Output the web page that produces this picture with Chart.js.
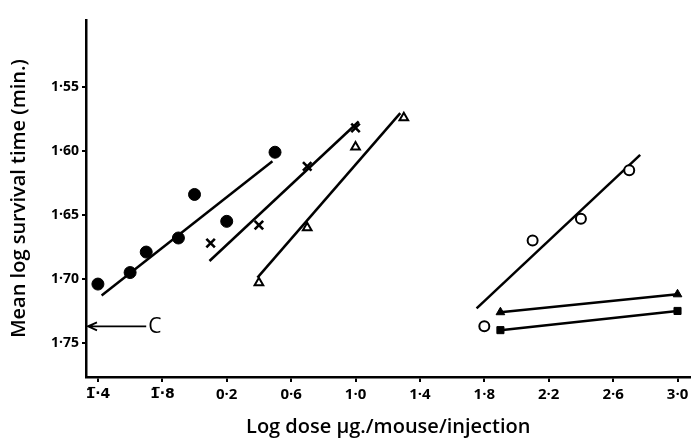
<!DOCTYPE html>
<html>
<head>
<meta charset="utf-8">
<script src="https://cdn.jsdelivr.net/npm/chart.js@4/dist/chart.umd.min.js"></script>
<style>
  html, body { margin: 0; background: #fff; }
  #wrap { width: 699px; height: 440px; }
</style>
</head>
<body>
<div id="wrap"><canvas id="chart"></canvas></div>
<script>
// axis ticks (log dose, bar notation for negatives)
const xTickValues = [-0.6, -0.2, 0.2, 0.6, 1.0, 1.4, 1.8, 2.2, 2.6, 3.0];
const xTickLabels = ["1\u0305·4", "1\u0305·8", "0·2", "0·6", "1·0", "1·4", "1·8", "2·2", "2·6", "3·0"];
const yTickValues = [1.55, 1.60, 1.65, 1.70, 1.75];
const yTickLabels = ["1·55", "1·60", "1·65", "1·70", "1·75"];

// filled circles
const dotDose = [-0.6, -0.4, -0.3, -0.1, 0.0, 0.2, 0.5];
const dotTime = [1.704, 1.695, 1.679, 1.668, 1.634, 1.655, 1.601];
const dotFitDose = [-0.577, 0.484];
const dotFitTime = [1.713, 1.608];

// crosses
const crossDose = [0.1, 0.4, 0.7, 1.0];
const crossTime = [1.672, 1.658, 1.612, 1.582];
const crossFitDose = [0.093, 1.02];
const crossFitTime = [1.686, 1.577];

// open triangles
const triDose = [0.4, 0.7, 1.0, 1.3];
const triTime = [1.703, 1.660, 1.597, 1.574];
const triFitDose = [0.391, 1.278];
const triFitTime = [1.699, 1.5705];

// open circles
const ringDose = [1.8, 2.1, 2.4, 2.7];
const ringTime = [1.737, 1.670, 1.653, 1.615];
const ringFitDose = [1.752, 2.768];
const ringFitTime = [1.723, 1.603];

// filled triangles and squares
const solidTriDose = [1.9, 3.0];
const solidTriTime = [1.726, 1.712];
const squareDose = [1.9, 3.0];
const squareTime = [1.740, 1.725];

// control
const controlTime = 1.737;
const controlArrowEnd = -0.30;

const pts = (xs, ys) => xs.map((x, i) => ({ x: x, y: ys[i] }));
const FONT = "'Open Sans', Lato, sans-serif";

const markers = (data, style, radius, fill, border) => ({
  data: data, showLine: false, pointStyle: style, pointRadius: radius,
  pointBackgroundColor: fill, pointBorderColor: "#000", pointBorderWidth: border
});
const fit = (data) => ({
  data: data, showLine: true, pointRadius: 0, borderColor: "#000", borderWidth: 2.5
});

const controlArrow = {
  id: "controlArrow",
  afterDatasetsDraw(chart) {
    const { ctx, scales: { x, y } } = chart;
    const py = y.getPixelForValue(controlTime);
    const x0 = x.left + 2;
    const x1 = x.getPixelForValue(controlArrowEnd);
    ctx.save();
    ctx.strokeStyle = "#000";
    ctx.lineWidth = 1.8;
    ctx.beginPath();
    ctx.moveTo(x0, py);
    ctx.lineTo(x1, py);
    ctx.moveTo(x0 + 9, py - 4);
    ctx.lineTo(x0, py);
    ctx.lineTo(x0 + 9, py + 4);
    ctx.stroke();
    ctx.fillStyle = "#000";
    ctx.font = "500 21px " + FONT;
    ctx.textBaseline = "middle";
    ctx.fillText("C", x1 + 2, py + 1);
    ctx.restore();
  }
};

new Chart(document.getElementById("chart"), {
  type: "scatter",
  data: {
    datasets: [
      markers(pts(dotDose, dotTime), "circle", 6, "#000", 1),
      markers(pts(crossDose, crossTime), "crossRot", 6, "#000", 2.6),
      markers(pts(triDose, triTime), "triangle", 5, "#fff", 2),
      markers(pts(ringDose, ringTime), "circle", 5, "#fff", 2),
      markers(pts(solidTriDose, solidTriTime), "triangle", 5, "#000", 1),
      markers(pts(squareDose, squareTime), "rect", 5, "#000", 1),
      fit(pts(dotFitDose, dotFitTime)),
      fit(pts(crossFitDose, crossFitTime)),
      fit(pts(triFitDose, triFitTime)),
      fit(pts(ringFitDose, ringFitTime)),
      fit(pts(solidTriDose, solidTriTime)),
      fit(pts(squareDose, squareTime))
    ]
  },
  options: {
    responsive: true,
    maintainAspectRatio: false,
    animation: false,
    layout: { padding: { top: 20, right: 6, left: 0, bottom: 0 } },
    plugins: { legend: { display: false }, tooltip: { enabled: false } },
    scales: {
      x: {
        type: "linear",
        min: -0.674,
        max: 3.08,
        afterFit(scale) { scale.height = 63; },
        afterBuildTicks(scale) { scale.ticks = xTickValues.map(v => ({ value: v })); },
        border: { display: true, color: "#000", width: 2.5 },
        grid: { drawOnChartArea: false, drawTicks: true, tickLength: 5, color: "#000", lineWidth: 2 },
        ticks: {
          color: "#000",
          padding: 4,
          maxRotation: 0,
          autoSkip: false,
          // bar-notation labels need a font with combining marks
          font: (c) => c.index < 2
            ? { family: "'DejaVu Sans'", size: 14, weight: "bold" }
            : { family: FONT, size: 15, weight: 700 },
          callback: (v, i) => xTickLabels[i]
        },
        title: {
          display: true,
          text: "Log dose μg./mouse/injection",
          color: "#000",
          padding: { top: 0, bottom: 1 },
          font: { family: FONT, size: 20, weight: 600 }
        }
      },
      y: {
        type: "linear",
        reverse: true,
        min: 1.4977,
        max: 1.7766,
        afterFit(scale) { scale.width = 86; },
        afterBuildTicks(scale) { scale.ticks = yTickValues.map(v => ({ value: v })); },
        border: { display: true, color: "#000", width: 2.5 },
        grid: { drawOnChartArea: false, drawTicks: true, tickLength: 4, color: "#000", lineWidth: 2 },
        ticks: {
          color: "#000",
          padding: 3,
          autoSkip: false,
          font: { family: FONT, size: 14, weight: 700 },
          callback: (v, i) => yTickLabels[i]
        },
        title: {
          display: true,
          text: "Mean log survival time (min.)",
          color: "#000",
          padding: { top: 7, bottom: 0 },
          font: { family: FONT, size: 20, weight: 600 }
        }
      }
    }
  },
  plugins: [controlArrow]
});
</script>
</body>
</html>
